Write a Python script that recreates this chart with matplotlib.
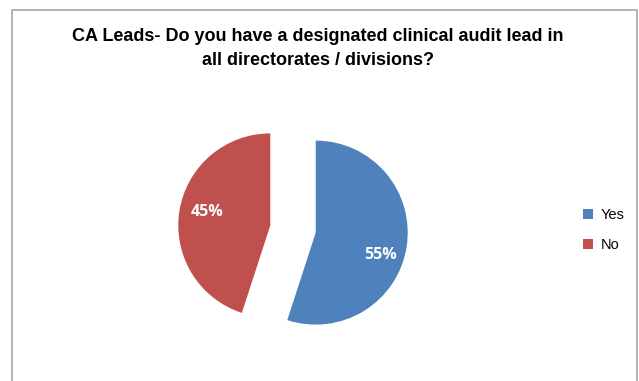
import matplotlib.pyplot as plt
from matplotlib.patches import Rectangle

# Dados do gráfico
labels = ['Yes', 'No']
values = [55, 45]
colors = ['#4F81BD', '#C0504D']
title = 'CA Leads- Do you have a designated clinical audit lead in\nall directorates / divisions?'

W, H = 639, 381
fig = plt.figure(figsize=(W / 100, H / 100), dpi=100)

# Moldura cinzenta do gráfico (a parte de baixo fica fora da imagem)
fig.patches.append(Rectangle((12 / W, -0.1), (637 - 12) / W, 1.1 - 10 / H,
                             transform=fig.transFigure, fill=False,
                             edgecolor='#a6a6a6', linewidth=1.2, clip_on=False))

# Eixos da tarta: centro em (293, 229) px, raio 92 px
r_px = 92
a = 1.5
cx, cy = 293, H - 229
ax = fig.add_axes([(cx - a * r_px) / W, (cy - a * r_px) / H,
                   2 * a * r_px / W, 2 * a * r_px / H])

wedges, texts, autotexts = ax.pie(values, colors=colors, explode=[0.25, 0.25],
                                  startangle=90, counterclock=False,
                                  autopct='%d%%', pctdistance=0.72,
                                  wedgeprops=dict(linewidth=0))
# Posição das percentagens relativamente ao centro de cada fatia
offsets = [(0.70, -0.24), (-0.69, 0.15)]
for w, t, (dx, dy) in zip(wedges, autotexts, offsets):
    t.set_position((w.center[0] + dx, w.center[1] + dy))
    t.set_color('white')
    t.set_fontweight('bold')
    t.set_fontsize(11.5)
    t.set_fontfamily('Open Sans')
ax.set_xlim(-a, a)
ax.set_ylim(-a, a)
ax.set_aspect('equal')
ax.axis('off')

fig.text(0.497, 1 - 48.5 / H, title, ha='center', va='center',
         fontsize=13, fontweight='bold', family='Liberation Sans',
         linespacing=1.6)

fig.legend(wedges, labels, loc='center left',
           bbox_to_anchor=(570 / W, 1 - 230 / H), frameon=False,
           handlelength=0.7, handleheight=0.7, handletextpad=0.5,
           labelspacing=1.1, prop={'family': 'Liberation Sans', 'size': 10.5})

fig.savefig('out.png', dpi=100)
